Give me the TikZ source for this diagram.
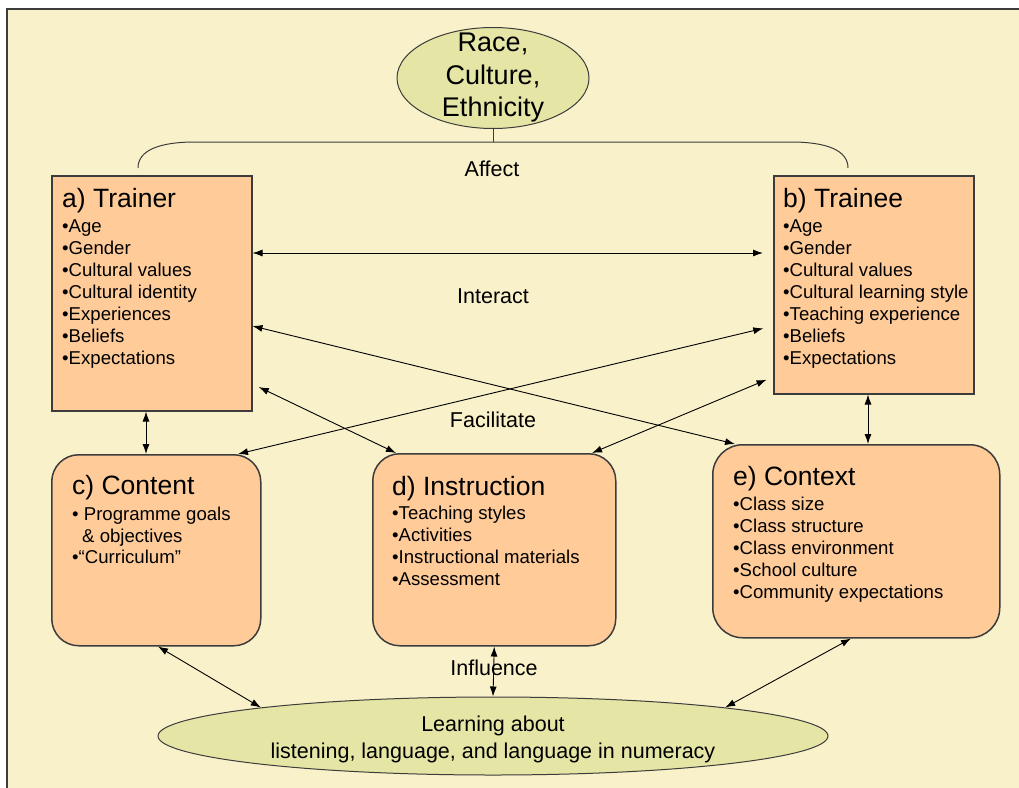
\documentclass[tikz,border=0pt]{standalone}
\usepackage{fontspec}
\setmainfont{Liberation Sans}
\usepackage{xcolor}
\usetikzlibrary{shapes.geometric, arrows.meta}

\definecolor{panelbg}{HTML}{F9F1CA}
\definecolor{peach}{HTML}{FFCC99}
\definecolor{olive}{HTML}{E5E5A6}
\definecolor{edge}{HTML}{3C3C3C}

\begin{document}
\begin{tikzpicture}[x=1pt, y=-1pt, >={Latex[length=10pt,width=7pt]}]
    % Define the styles
    \tikzstyle{box} = [rectangle, draw=edge, line width=1.5pt, fill=peach, anchor=north west]
    \tikzstyle{oval} = [ellipse, draw=edge, line width=1pt, fill=olive]
    \tikzstyle{head} = [anchor=base west, inner sep=0, font=\fontsize{26.5}{30}\selectfont]
    \tikzstyle{item} = [anchor=base west, inner sep=0, font=\fontsize{18.6}{22}\selectfont]
    \tikzstyle{label} = [anchor=base, inner sep=0, font=\fontsize{21.5}{26}\selectfont]
    \tikzstyle{line} = [draw, <->, line width=0.9pt]

    % Page and panel
    \useasboundingbox (0,0) rectangle (1019,787);
    \fill[white] (0,0) rectangle (1019,787);
    \clip (0,0) rectangle (1019,787);
    \draw[draw=edge, line width=2.5pt, fill=panelbg] (7,9) rectangle (1040,810);

    % Top ellipse and the bracket below it
    \node [oval, minimum width=192, minimum height=101] (race) at (493,78) {};
    \node [align=center, inner sep=0, font=\fontsize{27}{32.5}\selectfont] (raceText) at (race) {Race,\\Culture,\\Ethnicity};
    \coordinate (brace) at (493,142);
    \coordinate (braceL) at (138,168);
    \coordinate (braceR) at (848,168);
    \draw[edge, line width=1pt] (race.south) -- (brace);
    \draw[edge, line width=1pt] (braceL) .. controls (138,150) and (160,142) .. (195,142)
        -- (791,142) .. controls (826,142) and (848,150) .. (braceR);
    \node [label] (affect) at (492,176) {Affect};

    % Place the boxes
    \node [box, minimum width=200, minimum height=235] (trainer) at (51,175) {};
    \node [box, minimum width=200, minimum height=218] (trainee) at (773,175) {};
    \node [box, rounded corners=27pt, minimum width=209, minimum height=191] (content) at (51,454) {};
    \node [box, rounded corners=27pt, minimum width=243, minimum height=192] (instruction) at (372,453) {};
    \node [box, rounded corners=30pt, minimum width=287, minimum height=193] (context) at (712,444) {};

    % Bottom ellipse
    \node [oval, minimum width=670, minimum height=78] (learn) at (493,736) {};
    \node [align=center, inner sep=0, font=\fontsize{21.5}{27}\selectfont] (learnText) at (493,739)
        {Learning about\\listening, language, and language in numeracy};

    % Box texts
    \node [head] (trainerHead) at (62,207) {a) Trainer};
    \foreach \t [count=\i] in {Age, Gender, Cultural values, Cultural identity, Experiences, Beliefs, Expectations}
        \node [item] (trainer-\i) at (62,{232+22*(\i-1)}) {•\t};

    \node [head] (traineeHead) at (783,207) {b) Trainee};
    \foreach \t [count=\i] in {Age, Gender, Cultural values, Cultural learning style, Teaching experience, Beliefs, Expectations}
        \node [item] (trainee-\i) at (783,{232+22*(\i-1)}) {•\t};

    \node [head] (contentHead) at (72,494) {c) Content};
    \node [item] (content-1) at (72,520) {• Programme goals};
    \node [item] (content-2) at (82,542) {\& objectives};
    \node [item] (content-3) at (72,563) {•“Curriculum”};

    \node [head] (instructionHead) at (392,495) {d) Instruction};
    \foreach \t [count=\i] in {Teaching styles, Activities, Instructional materials, Assessment}
        \node [item] (instruction-\i) at (392,{519+22*(\i-1)}) {•\t};

    \node [head] (contextHead) at (733,485) {e) Context};
    \foreach \t [count=\i] in {Class size, Class structure, Class environment, School culture, Community expectations}
        \node [item] (context-\i) at (733,{510+22*(\i-1)}) {•\t};

    % Labels between the boxes
    \node [label] (interact) at (493,303) {Interact};
    \node [label] (facilitate) at (493,427) {Facilitate};
    \node [label] (influence) at (494,675) {Influence};

    % Connect the boxes
    \path [line, shorten >=10pt] (trainer.east |- 0,253) -- (trainee.west |- 0,253);
    \path [line] (trainer.east |- 0,326) -- (735,0 |- context.north);
    \path [line, shorten <=10pt] (trainee.west |- 0,326) -- (238,0 |- content.north);
    \path [line, shorten <=7pt] (trainer.east |- 0,384) -- (396,0 |- instruction.north);
    \path [line, shorten <=7pt] (trainee.west |- 0,377) -- (592,0 |- instruction.north);
    \path [line] (trainer.south -| 146,0) -- (146,0 |- content.north);
    \path [line] (trainee.south -| 868,0) -- (868,0 |- context.north);

    \path [line] (content.south -| 158,0) -- (learn.173);
    \path [line] (instruction.south) -- (learn.north);
    \path [line] (context.south -| 851,0) -- (learn.7);
\end{tikzpicture}
\end{document}
